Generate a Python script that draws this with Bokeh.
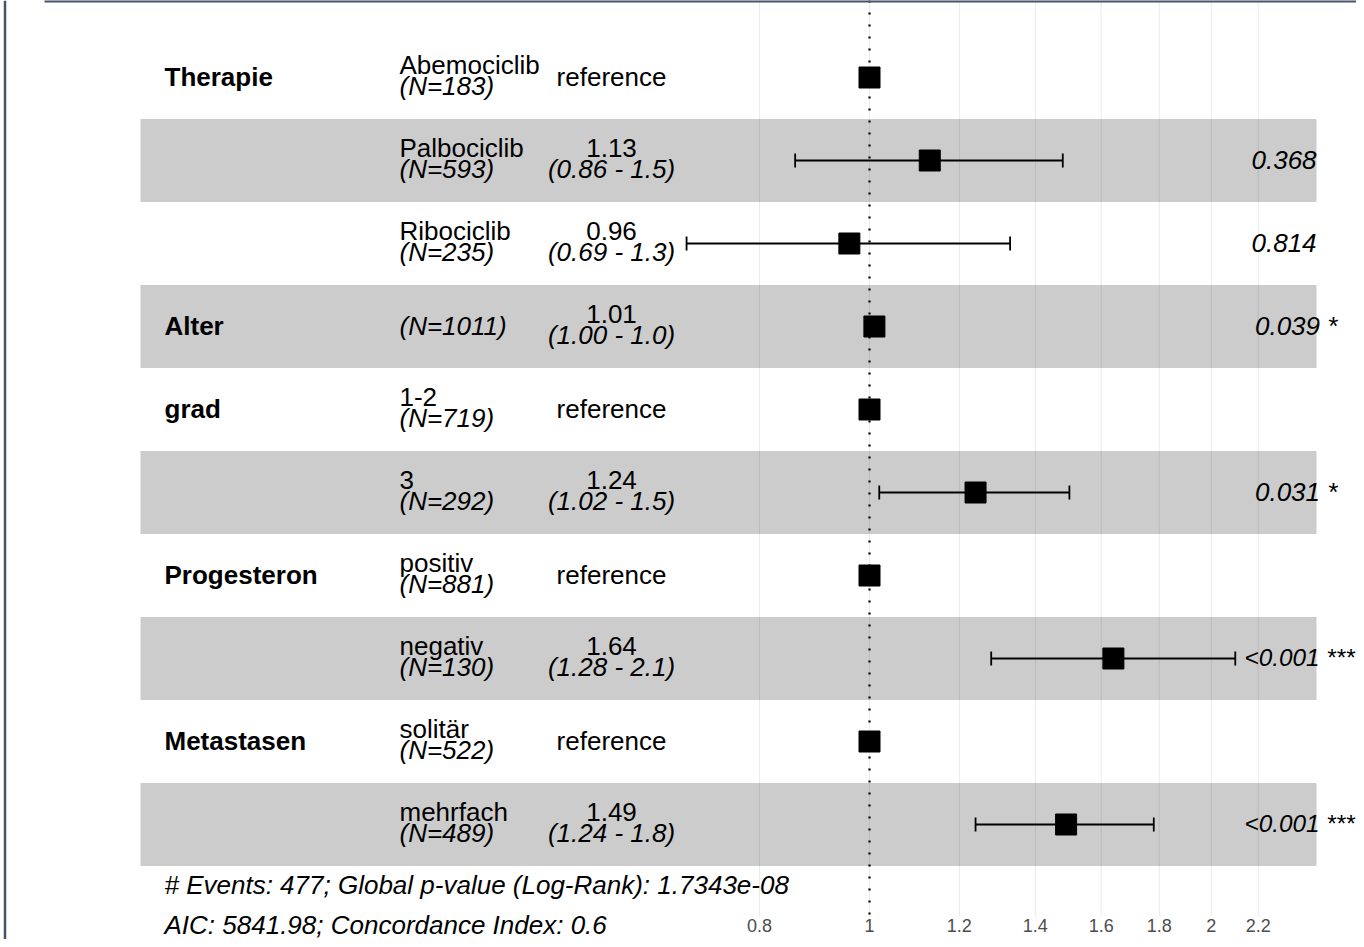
import math
from bokeh.plotting import figure
from bokeh.models import FixedTicker, CustomJSTickFormatter, Range1d, ColumnDataSource
from bokeh.embed import file_html
from bokeh.resources import INLINE
from bokeh.core.properties import value

# ---------------- data ----------------
variables = ["Therapie", "", "", "Alter", "grad", "", "Progesteron", "", "Metastasen", ""]
levels = ["Abemociclib", "Palbociclib", "Ribociclib", "", "1-2", "3", "positiv", "negativ", "solitär", "mehrfach"]
n_obs = [183, 593, 235, 1011, 719, 292, 881, 130, 522, 489]
hr = [1.0, 1.13, 0.96, 1.01, 1.0, 1.24, 1.0, 1.64, 1.0, 1.49]
ci_low = [1.0, 0.86, 0.69, 1.00, 1.0, 1.02, 1.0, 1.28, 1.0, 1.24]
ci_high = [1.0, 1.48, 1.33, 1.01, 1.0, 1.50, 1.0, 2.10, 1.0, 1.78]
est_labels = ["reference", "1.13", "0.96", "1.01", "reference", "1.24", "reference", "1.64", "reference", "1.49"]
ci_labels = ["", "(0.86 - 1.5)", "(0.69 - 1.3)", "(1.00 - 1.0)", "", "(1.02 - 1.5)", "", "(1.28 - 2.1)", "", "(1.24 - 1.8)"]
p_labels = ["", "0.368", "0.814", "0.039 *", "", "0.031 *", "", "<0.001 ***", "", "<0.001 ***"]
x_ticks = [0.8, 1, 1.2, 1.4, 1.6, 1.8, 2, 2.2]
footer_lines = ["# Events: 477; Global p-value (Log-Rank): 1.7343e-08",
                "AIC: 5841.98; Concordance Index: 0.6"]

# ---------------- layout helpers (canvas px -> data) ----------------
W, H = 1356, 939
N = len(levels)
X_ONE_PX, PX_PER_LN = 869.0, 493.0
ROW0_PX, ROW_PX = 77.0, 83.0
PANEL_BOTTOM_PX = 916.0
FS = 26
FONT = "Liberation Sans"
TEXT_DY = -10  # baseline calibration
FRAME_COLOR = "#465568"

def hr_at(sx):
    return math.exp((sx - X_ONE_PX) / PX_PER_LN)

def y_at(sy):
    return (N - 1) - (sy - ROW0_PX) / ROW_PX

ys = [N - 1 - i for i in range(N)]

def shift(y, dpx):
    return y - (dpx + TEXT_DY) / ROW_PX

CW = {".": 0.278, " ": 0.278, "*": 0.389, "<": 0.584}
def text_em(s):
    return sum(CW.get(c, 0.556) for c in s)

p = figure(width=W, height=H, output_backend="svg", toolbar_location=None,
           x_axis_type="log", y_axis_location=None,
           x_range=Range1d(hr_at(0), hr_at(W)), y_range=Range1d(y_at(H), y_at(0)),
           min_border_left=0, min_border_right=0, min_border_top=0, min_border_bottom=0)
p.outline_line_color = None
p.background_fill_color = "white"
p.border_fill_color = "white"
p.xgrid.visible = False
p.ygrid.visible = False

# axis drawn at the bottom of the panel
ax = p.xaxis[0]
ax.fixed_location = y_at(912)
ax.ticker = FixedTicker(ticks=x_ticks)
ax.formatter = CustomJSTickFormatter(code="return String(Math.round(tick*10)/10);")
ax.axis_line_color = None
ax.major_tick_line_color = None
ax.minor_tick_line_color = None
ax.major_label_text_font = FONT
ax.major_label_text_font_size = "18px"
ax.major_label_text_color = "#4d4d4d"
ax.major_label_standoff = 0

# grid lines limited to the panel
p.segment(x0=x_ticks, x1=x_ticks, y0=[y_at(PANEL_BOTTOM_PX)] * len(x_ticks),
          y1=[y_at(0)] * len(x_ticks), line_color="#ebebeb", line_width=1)

# alternating bands
band_rows = [ys[i] for i in range(N) if i % 2 == 1]
p.quad(left=hr_at(140), right=hr_at(1316),
       bottom=[y - 0.5 for y in band_rows], top=[y + 0.5 for y in band_rows],
       fill_color="black", fill_alpha=0.2, line_color=None)

# reference line
p.segment(x0=[1], x1=[1], y0=[y_at(914)], y1=[y_at(0)], line_color="black",
          line_width=2.2, line_dash="2 10")

# error bars
eb = [i for i in range(N) if ci_high[i] > ci_low[i]]
ebs = ColumnDataSource(dict(lo=[ci_low[i] for i in eb], hi=[ci_high[i] for i in eb],
                            y=[ys[i] for i in eb],
                            yb=[ys[i] - 7 / ROW_PX for i in eb],
                            yt=[ys[i] + 7 / ROW_PX for i in eb]))
p.segment(x0="lo", x1="hi", y0="y", y1="y", source=ebs, line_color="black", line_width=1.8)
p.segment(x0="lo", x1="lo", y0="yb", y1="yt", source=ebs, line_color="black", line_width=1.8)
p.segment(x0="hi", x1="hi", y0="yb", y1="yt", source=ebs, line_color="black", line_width=1.8)

# points
p.scatter(x=hr, y=ys, marker="square", size=21, color="black")

def txt(xs, yv, labels, style="normal", align="left", size=None):
    p.text(x=xs, y=yv, text=labels, text_font=value(FONT),
           text_font_size=size if size is not None else f"{FS}px",
           text_font_style=style, text_align=align, text_baseline="alphabetic",
           text_color="black")

# variable names
vi = [i for i in range(N) if variables[i]]
txt([hr_at(164)] * len(vi), [shift(ys[i], 9) for i in vi], [variables[i] for i in vi], "bold")

# levels
li = [i for i in range(N) if levels[i]]
txt([hr_at(399)] * len(li), [shift(ys[i], -3) for i in li], [levels[i] for i in li])
# N
txt([hr_at(399)] * N, [shift(ys[i], 18 if levels[i] else 9) for i in range(N)],
    [f"(N={n})" for n in n_obs], "italic")

# estimates
txt([hr_at(611)] * N,
    [shift(ys[i], 9 if est_labels[i] == "reference" else -3) for i in range(N)],
    est_labels, align="center")
ci_i = [i for i in range(N) if ci_labels[i]]
txt([hr_at(611)] * len(ci_i), [shift(ys[i], 18) for i in ci_i], [ci_labels[i] for i in ci_i],
    "italic", align="center")

# p-values (hjust = -0.2; long labels shrunk a little to stay inside the canvas)
pi = [i for i in range(N) if p_labels[i]]
px_, pfs_ = [], []
for i in pi:
    em = text_em(p_labels[i])
    x0 = 1238 + 0.2 * em * FS
    fs = FS
    if x0 + em * FS > W - 2:
        x0 = 1244
        fs = (W - 2 - x0) / em
    px_.append(hr_at(x0))
    pfs_.append(f"{fs:.1f}px")
txt(px_, [shift(ys[i], 9) for i in pi], [p_labels[i] for i in pi], "italic", size=pfs_)

# footer
txt([hr_at(164)] * len(footer_lines), [shift(y_at(sy), 0) for sy in (894, 934)],
    footer_lines, "italic")

# surrounding card border (top edge and left edge, as seen in the reference)
p.segment(x0=[hr_at(44)], x1=[hr_at(W)], y0=[y_at(0.8)], y1=[y_at(0.8)],
          line_color=FRAME_COLOR, line_width=2.5)
p.segment(x0=[hr_at(4.5)], x1=[hr_at(4.5)], y0=[y_at(0)], y1=[y_at(H)],
          line_color=FRAME_COLOR, line_width=2.5)

open("out.html", "w").write(file_html(p, INLINE))
